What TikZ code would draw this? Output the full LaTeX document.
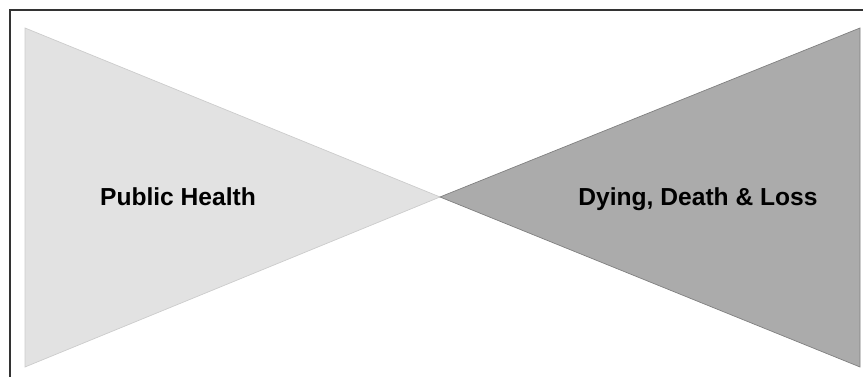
\documentclass[tikz,border=0pt]{standalone}
\usepackage{fontspec}
\setmainfont{Liberation Sans}
\usetikzlibrary{positioning}

\definecolor{lightwedge}{HTML}{E2E2E2}
\definecolor{darkwedge}{HTML}{ABABAB}

\begin{document}
\begin{tikzpicture}[x=0.02cm, y=0.02cm,
        label text/.style={font=\fontsize{14}{16}\selectfont\bfseries, text=black, anchor=base}]
        \useasboundingbox (0,0) rectangle (863,377);

        % Frame on top and left
        \draw[line width=0.9pt, black!80] (10,0) -- (10,367) -- (863,367);

        % The two wedges meeting in the middle
        \coordinate (apex) at (440,180);
        \filldraw[fill=lightwedge, draw=black!20, line width=0.4pt] (25,349) -- (apex) -- (25,10) -- cycle;
        \filldraw[fill=darkwedge, draw=black!50, line width=0.4pt] (860,349) -- (apex) -- (860,10) -- cycle;

        % Labels
        \node[label text] (health) at (178,171) {Public Health};
        \node[label text] (dying) at (698,171) {Dying, Death \& Loss};
    \end{tikzpicture}
\end{document}
